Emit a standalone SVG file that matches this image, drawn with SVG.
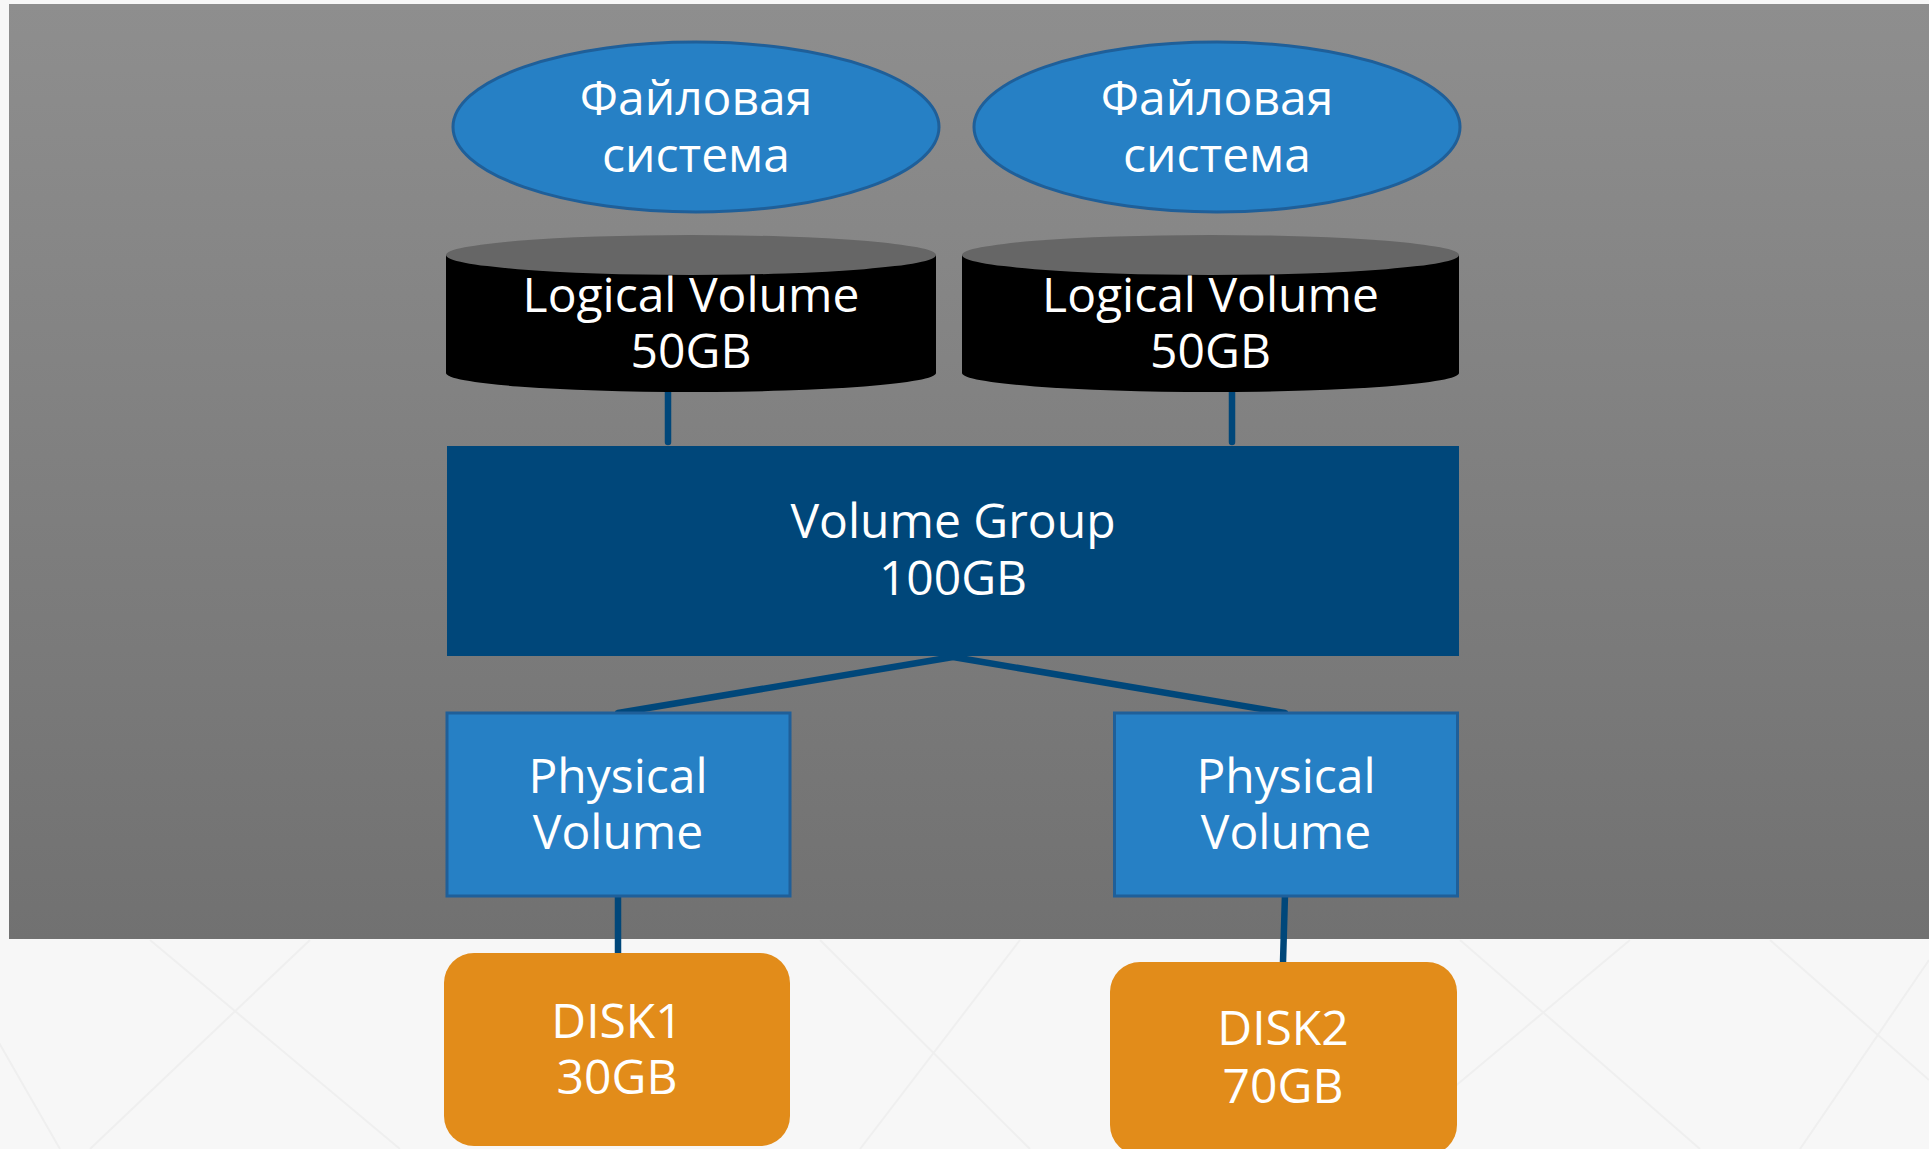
<svg xmlns="http://www.w3.org/2000/svg" width="1929" height="1149" viewBox="0 0 1929 1149">
  <defs>
    <linearGradient id="panelGrad" x1="0" y1="0" x2="0" y2="1">
      <stop offset="0" stop-color="#8e8e8e"/>
      <stop offset="1" stop-color="#717171"/>
    </linearGradient>
    <style>
      .lbl { font-family: "Open Sans", "Noto Sans", "Liberation Sans", sans-serif; font-size: 48px; fill: #ffffff; text-anchor: middle; }
      .fs { fill: #2680c5; stroke: #1f5f99; stroke-width: 3; }
      .pv { fill: #2680c5; stroke: #1f5f99; stroke-width: 3; }
      .lvTop { fill: #666666; }
      .lvBody { fill: #000000; }
      .vg { fill: #00477a; }
      .disk { fill: #e28c1a; }
      .link { stroke: #00477a; stroke-width: 6.5; stroke-linecap: round; stroke-linejoin: round; fill: none; }
      .bgline { stroke: #efefef; stroke-width: 2; fill: none; }
    </style>
  </defs>

  <!-- page background with faint diagonal texture -->
  <rect x="0" y="0" width="1929" height="1149" fill="#f7f7f7"/>
  <g class="bgline">
    <line x1="150" y1="940" x2="400" y2="1149"/>
    <line x1="310" y1="940" x2="90" y2="1149"/>
    <line x1="-60" y1="940" x2="60" y2="1149"/>
    <line x1="1460" y1="940" x2="1700" y2="1149"/>
    <line x1="1630" y1="940" x2="1380" y2="1149"/>
    <line x1="1770" y1="940" x2="1929" y2="1080"/>
    <line x1="1929" y1="960" x2="1800" y2="1149"/>
    <line x1="820" y1="940" x2="1030" y2="1149"/>
    <line x1="1020" y1="940" x2="860" y2="1149"/>
  </g>

  <!-- grey panel -->
  <rect x="9" y="4" width="1920" height="935" fill="url(#panelGrad)"/>

  <!-- connectors -->
  <g id="connectors">
    <line class="link" x1="668" y1="381" x2="668" y2="442"/>
    <line class="link" x1="1232" y1="381" x2="1232" y2="442"/>
    <polyline class="link" points="618,713 953,657 1285,713"/>
    <line class="link" x1="618" y1="894" x2="618" y2="955"/>
    <line class="link" x1="1285" y1="894" x2="1283" y2="962"/>
  </g>

  <!-- file systems -->
  <g id="fs1">
    <ellipse class="fs" cx="696" cy="127" rx="243" ry="85"/>
    <text class="lbl" x="696" y="115">Файловая</text>
    <text class="lbl" x="696" y="172">система</text>
  </g>
  <g id="fs2">
    <ellipse class="fs" cx="1217" cy="127" rx="243" ry="85"/>
    <text class="lbl" x="1217" y="115">Файловая</text>
    <text class="lbl" x="1217" y="172">система</text>
  </g>

  <!-- logical volumes -->
  <g id="lv1">
    <path class="lvBody" d="M446,255 L446,373 A245,19 0 0 0 936,373 L936,255 Z"/>
    <ellipse class="lvTop" cx="691" cy="255" rx="245" ry="20"/>
    <text class="lbl" x="691" y="312">Logical Volume</text>
    <text class="lbl" x="691" y="368">50GB</text>
  </g>
  <g id="lv2">
    <path class="lvBody" d="M962,255 L962,373 A248.5,19 0 0 0 1459,373 L1459,255 Z"/>
    <ellipse class="lvTop" cx="1210.5" cy="255" rx="248.5" ry="20"/>
    <text class="lbl" x="1210.5" y="312">Logical Volume</text>
    <text class="lbl" x="1210.5" y="368">50GB</text>
  </g>

  <!-- volume group -->
  <g id="vg">
    <rect class="vg" x="447" y="446" width="1012" height="210"/>
    <text class="lbl" x="953" y="538">Volume Group</text>
    <text class="lbl" x="953" y="595">100GB</text>
  </g>

  <!-- physical volumes -->
  <g id="pv1">
    <rect class="pv" x="447" y="713" width="343" height="183"/>
    <text class="lbl" x="618" y="793">Physical</text>
    <text class="lbl" x="618" y="849">Volume</text>
  </g>
  <g id="pv2">
    <rect class="pv" x="1114.5" y="713" width="343" height="183"/>
    <text class="lbl" x="1286" y="793">Physical</text>
    <text class="lbl" x="1286" y="849">Volume</text>
  </g>

  <!-- disks -->
  <g id="disk1">
    <rect class="disk" x="444" y="953" width="346" height="193" rx="30" ry="30"/>
    <text class="lbl" x="617" y="1038">DISK1</text>
    <text class="lbl" x="617" y="1094">30GB</text>
  </g>
  <g id="disk2">
    <rect class="disk" x="1110" y="962" width="347" height="193" rx="30" ry="30"/>
    <text class="lbl" x="1283" y="1045">DISK2</text>
    <text class="lbl" x="1283" y="1103">70GB</text>
  </g>
</svg>
